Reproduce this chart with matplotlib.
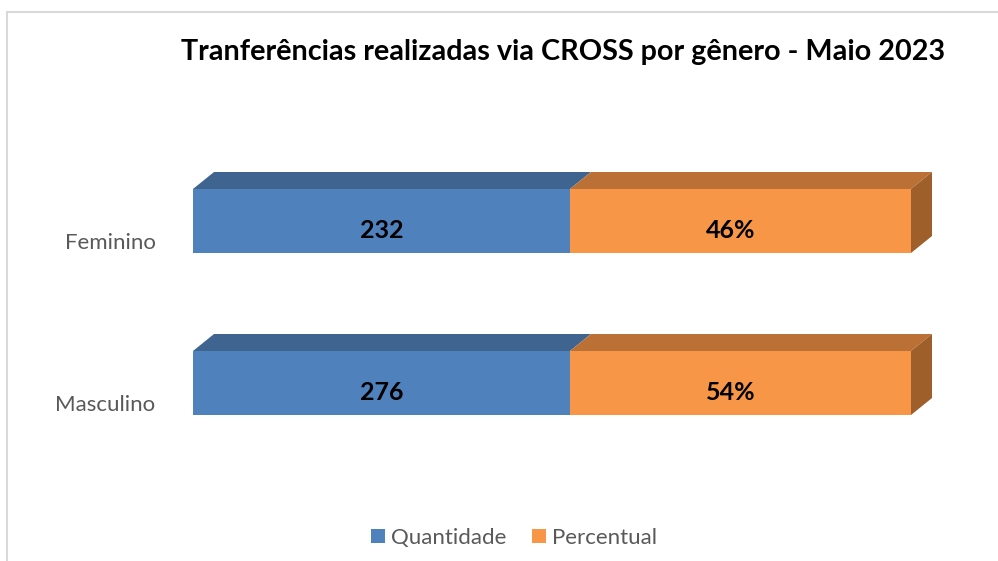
import matplotlib
matplotlib.use("Agg")
import matplotlib.pyplot as plt
from matplotlib.patches import Polygon, Patch
from matplotlib.lines import Line2D
from matplotlib.transforms import ScaledTranslation

# ---- data ----
categories = ["Masculino", "Feminino"]
quantidade = [276, 232]
percentual = [54, 46]
share_quantidade = [0.525, 0.525]   # drawn segment lengths (as seen in the picture)
share_percentual = [0.475, 0.475]
series_names = ["Quantidade", "Percentual"]
title = "Tranferências realizadas via CROSS por gênero - Maio 2023"

# ---- styling ----
front_cols = ["#4F81BD", "#F79646"]
top_cols = ["#3E648F", "#BB7036"]
side_cols = ["#3A5D86", "#9E5F2B"]
label_gray = "#595959"
FONT = "Lato"

W, H = 998, 561
fig = plt.figure(figsize=(W / 100, H / 100), dpi=100)
fig.patch.set_facecolor("white")

# axes pixel frame
ax_l, ax_r, ax_t, ax_b = 193, 911, 140, 460
ax = fig.add_axes([ax_l / W, (H - ax_b) / H, (ax_r - ax_l) / W, (ax_b - ax_t) / H])
ax.set_xlim(0, 1)
ypos = list(range(len(categories)))
px_per_y = 162.0
ax.set_ylim(-(ax_b - 383) / px_per_y, (383 - ax_t) / px_per_y)
for s in ax.spines.values():
    s.set_visible(False)
ax.set_xticks([])

bar_h = 64 / px_per_y
dx = 21 / (ax_r - ax_l)
dy = 17 / px_per_y
lab_dy = 7 / px_per_y

for i, y in enumerate(ypos):
    segs = [share_quantidade[i], share_percentual[i]]
    left = 0.0
    for j, w in enumerate(segs):
        top = y + bar_h / 2
        ax.add_patch(Polygon([(left, top), (left + w, top), (left + w + dx, top + dy), (left + dx, top + dy)],
                             closed=True, facecolor=top_cols[j], edgecolor="none", clip_on=False, zorder=2))
        if j == len(segs) - 1:
            r = left + w
            ax.add_patch(Polygon([(r, y - bar_h / 2), (r, top), (r + dx, top + dy), (r + dx, y - bar_h / 2 + dy)],
                                 closed=True, facecolor=side_cols[j], edgecolor="none", clip_on=False, zorder=2))
        left += w
    ax.barh(y, share_quantidade[i], height=bar_h, color=front_cols[0], zorder=3)
    ax.barh(y, share_percentual[i], left=share_quantidade[i], height=bar_h, color=front_cols[1], zorder=3)
    ax.text(share_quantidade[i] / 2, y - lab_dy, f"{quantidade[i]}", ha="center", va="center_baseline",
            fontsize=18, fontweight="bold", family=FONT, color="black", zorder=4)
    ax.text(share_quantidade[i] + share_percentual[i] / 2 - 0.014, y - lab_dy, f"{percentual[i]}%", ha="center",
            va="center_baseline", fontsize=18, fontweight="bold", family=FONT, color="black", zorder=4)

ax.set_yticks(ypos)
ax.set_yticklabels(categories, family=FONT, fontsize=16, color=label_gray)
ax.tick_params(axis="y", length=0, pad=27)
off = ScaledTranslation(0, -20 / 100, fig.dpi_scale_trans)
for lab in ax.get_yticklabels():
    lab.set_transform(lab.get_transform() + off)

fig.text(563 / W, (H - 52) / H, title, ha="center", va="center", fontsize=20.7, fontweight="bold",
         family=FONT, color="black")

handles = [Patch(facecolor=c, edgecolor="none") for c in front_cols]
leg = fig.legend(handles, series_names, loc="center", bbox_to_anchor=(514 / W, (H - 538) / H), ncol=2,
                 frameon=False, prop={"family": FONT, "size": 16}, handlelength=0.62, handleheight=0.62,
                 handletextpad=0.27, columnspacing=1.15)
for t in leg.get_texts():
    t.set_color(label_gray)

# chart border
bc = "#D9D9D9"
fig.add_artist(Line2D([7 / W, 7 / W], [0, (H - 12) / H], color=bc, lw=1.5, transform=fig.transFigure))
fig.add_artist(Line2D([7 / W, 1], [(H - 12) / H, (H - 12) / H], color=bc, lw=1.5, transform=fig.transFigure))

fig.savefig("out.png", dpi=100, facecolor="white")
